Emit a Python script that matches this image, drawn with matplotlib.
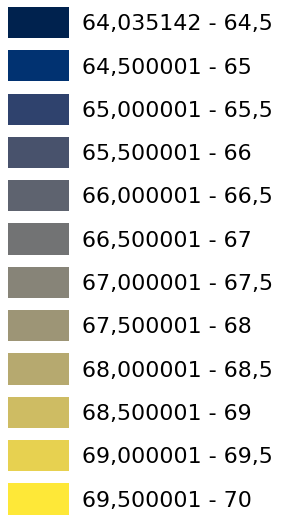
import matplotlib
matplotlib.use("Agg")
import matplotlib.pyplot as plt
import numpy as np

# class breaks of the legend
lower = ["64,035142", "64,500001", "65,000001", "65,500001", "66,000001", "66,500001",
         "67,000001", "67,500001", "68,000001", "68,500001", "69,000001", "69,500001"]
upper = ["64,5", "65", "65,5", "66", "66,5", "67", "67,5", "68", "68,5", "69", "69,5", "70"]

n = len(lower)
cmap = plt.get_cmap("cividis")
colors = [cmap(i / (n - 1)) for i in range(n)]

fig = plt.figure(figsize=(2.81, 5.18), dpi=100)
ax = fig.add_axes([0, 0, 1, 1])
ax.axis("off")

pos = np.arange(n)
ax.barh(pos, 1, left=0, height=0.72, color=colors)
for i in range(n):
    ax.text(1.213, pos[i] + 0.04, f"{lower[i]} - {upper[i]}", fontsize=15.9,
            va="center", ha="left", color="black", family="DejaVu Sans")

ax.set_xlim(-0.131, 4.475)
ax.set_ylim(11.44, -0.52)

fig.savefig("out.png", dpi=100)
